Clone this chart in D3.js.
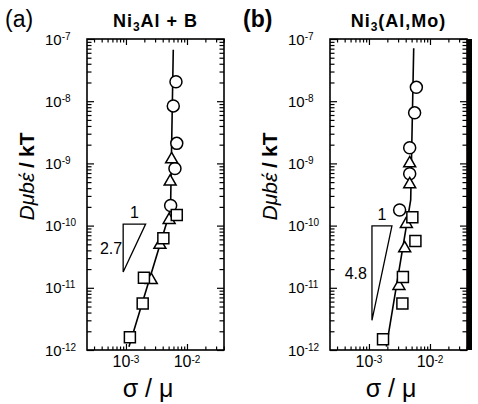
<!DOCTYPE html>
<html>
<head>
<meta charset="utf-8">
<script src="https://cdn.jsdelivr.net/npm/d3@7"></script>
<style>
body { margin: 0; background: #fff; }
svg { display: block; font-family: Arial, "Liberation Sans", sans-serif; }
</style>
</head>
<body>
<svg id="chart" width="478" height="404"></svg>
<script>
// axis ranges and tick labels
var xDomain = [2.3e-4, 4.04e-2];
var yDomain = [1e-12, 1e-7];
var xMajor = [1e-3, 1e-2];
var xMajorExp = ["-3", "-2"];
var yMajor = [1e-12, 1e-11, 1e-10, 1e-9, 1e-8, 1e-7];
var yMajorExp = ["-12", "-11", "-10", "-9", "-8", "-7"];

// (a) Ni3Al + B : [sigma/mu, D mu b eps / kT]
var circlesA = [[6.6e-3, 2.06e-8], [5.96e-3, 8.4e-9], [6.8e-3, 2.1e-9], [6.35e-3, 8.3e-10], [5.4e-3, 2.1e-10]];
var trianglesA = [[5.6e-3, 1.16e-9], [5.3e-3, 5.1e-10], [5.1e-3, 1.23e-10], [3.6e-3, 4.9e-11], [2.6e-3, 1.33e-11]];
var squaresA = [[6.8e-3, 1.48e-10], [4.1e-3, 6.25e-11], [1.97e-3, 1.45e-11], [1.88e-3, 5.6e-12], [1.16e-3, 1.6e-12]];
var fitA = [[1.12e-3, 1.13e-12], [5.37e-3, 1.78e-10], [5.96e-3, 6.7e-8]];
var slopeA = [[9.0e-4, 1.06e-10], [2.1e-3, 1.06e-10], [9.0e-4, 1.8e-11]];

// (b) Ni3(Al,Mo)
var circlesB = [[5.98e-3, 1.67e-8], [5.6e-3, 6.5e-9], [4.65e-3, 1.79e-9], [4.65e-3, 6.8e-10], [3.18e-3, 1.78e-10]];
var trianglesB = [[4.65e-3, 1.0e-9], [4.65e-3, 4.6e-10], [4.1e-3, 1.06e-10], [3.85e-3, 4.3e-11], [3.1e-3, 1.07e-11]];
var squaresB = [[5.14e-3, 1.36e-10], [5.77e-3, 5.65e-11], [3.6e-3, 1.49e-11], [3.53e-3, 5.6e-12], [1.70e-3, 1.49e-12]];
var fitB = [[1.93e-3, 1.13e-12], [4.83e-3, 2.58e-10], [5.41e-3, 7.1e-8]];
var slopeB = [[1.12e-3, 9.9e-11], [2.38e-3, 9.9e-11], [1.12e-3, 3.0e-12]];

var panels = [
	{tag: "(a)", tagBold: false, tagX: -82, name: "Ni", sub: "3", rest: "Al + B", left: 87,
	 circles: circlesA, triangles: trianglesA, squares: squaresA, fit: fitA, slope: slopeA, slopeText: "2.7", textGap: 1},
	{tag: "(b)", tagBold: true, tagX: -87, name: "Ni", sub: "3", rest: "(Al,Mo)", left: 330,
	 circles: circlesB, triangles: trianglesB, squares: squaresB, fit: fitB, slope: slopeB, slopeText: "4.8", textGap: 5}
];

var marginTop = 39, width = 137, height = 311;

// minor ticks 2..9 in each decade
function minors(dom) {
	var out = [];
	for (var e = -13; e <= -1; e++) {
		for (var m = 2; m <= 9; m++) {
			var v = m * Math.pow(10, e);
			if (v > dom[0] && v < dom[1]) out.push(v);
		}
	}
	return out;
}

var svg = d3.select("#chart");

panels.forEach(function(p) {
	var x = d3.scaleLog().domain(xDomain).range([0, width]);
	var y = d3.scaleLog().domain(yDomain).range([height, 0]);

	var g = svg.append("g").attr("transform", "translate(" + p.left + "," + marginTop + ")");

	function ticks(axis, tr, vals, size) {
		g.append("g")
			.attr("transform", tr)
			.call(axis.tickValues(vals).tickSizeInner(size).tickSizeOuter(0).tickFormat(""))
			.call(function(s) { s.select(".domain").remove(); s.selectAll("line").attr("stroke-width", 1.2); });
	}
	var xm = minors(xDomain), ym = minors(yDomain);
	ticks(d3.axisBottom(x), "translate(0," + height + ")", xMajor, -6);
	ticks(d3.axisBottom(x), "translate(0," + height + ")", xm, -3.5);
	ticks(d3.axisTop(x), "translate(0,0)", xMajor, -6);
	ticks(d3.axisTop(x), "translate(0,0)", xm, -3.5);
	ticks(d3.axisLeft(y), "translate(0,0)", yMajor, -7);
	ticks(d3.axisLeft(y), "translate(0,0)", ym, -4.5);
	ticks(d3.axisRight(y), "translate(" + width + ",0)", yMajor, -7);
	ticks(d3.axisRight(y), "translate(" + width + ",0)", ym, -4.5);

	g.append("rect")
		.attr("width", width).attr("height", height)
		.attr("fill", "none").attr("stroke", "#000").attr("stroke-width", 1.6);

	// y tick labels
	var yl = g.selectAll(".ylab").data(yMajor).enter().append("text")
		.attr("class", "ylab")
		.attr("x", -42)
		.attr("y", function(d) { return y(d) + 5.5; })
		.attr("font-size", 15);
	yl.append("tspan").text("10");
	yl.append("tspan").attr("dy", -5).attr("font-size", 10).text(function(d, i) { return yMajorExp[i]; });

	// x tick labels
	var xl = g.selectAll(".xlab").data(xMajor).enter().append("text")
		.attr("class", "xlab")
		.attr("x", function(d) { return x(d); })
		.attr("y", height + 17)
		.attr("text-anchor", "middle")
		.attr("font-size", 16);
	xl.append("tspan").text("10");
	xl.append("tspan").attr("dy", -4).attr("font-size", 10).text(function(d, i) { return xMajorExp[i]; });

	// axis titles
	g.append("text")
		.attr("x", width / 2 - 7.5)
		.attr("y", height + 47)
		.attr("text-anchor", "middle")
		.attr("font-size", 25)
		.text("σ / μ");

	var yt = g.append("text")
		.attr("transform", "translate(-53.5," + (height / 2 - 18) + ") rotate(-90)")
		.attr("text-anchor", "middle")
		.attr("font-size", 21)
		.attr("font-weight", "bold");
	yt.append("tspan").attr("font-style", "italic").attr("font-weight", "normal").text("Dμbέ");
	yt.append("tspan").attr("dx", 5).text("/");
	yt.append("tspan").attr("dx", 5).text("kT");

	// panel tag and title
	g.append("text")
		.attr("x", p.tagX)
		.attr("y", -12)
		.attr("font-size", 23)
		.attr("font-weight", p.tagBold ? "bold" : "normal")
		.text(p.tag);

	var tt = g.append("text")
		.attr("x", width / 2)
		.attr("y", -12)
		.attr("text-anchor", "middle")
		.attr("font-size", 18)
		.attr("font-weight", "bold")
		.attr("letter-spacing", 1);
	tt.append("tspan").text(p.name);
	tt.append("tspan").attr("dy", 4).attr("font-size", 12).text(p.sub);
	tt.append("tspan").attr("dy", -4).text(p.rest);

	// fit line
	var line = d3.line()
		.x(function(d) { return x(d[0]); })
		.y(function(d) { return y(d[1]); });
	g.append("path")
		.attr("d", line(p.fit))
		.attr("fill", "none").attr("stroke", "#000").attr("stroke-width", 1.6);

	// slope triangle
	g.append("path")
		.attr("d", line(p.slope) + "Z")
		.attr("fill", "none").attr("stroke", "#000").attr("stroke-width", 1.3);
	g.append("text")
		.attr("x", (x(p.slope[0][0]) + x(p.slope[1][0])) / 2)
		.attr("y", y(p.slope[0][1]) - 6)
		.attr("text-anchor", "middle")
		.attr("font-size", 16)
		.text("1");
	g.append("text")
		.attr("x", x(p.slope[0][0]) - p.textGap)
		.attr("y", (y(p.slope[0][1]) + y(p.slope[2][1])) / 2 + 6)
		.attr("text-anchor", "end")
		.attr("font-size", 16)
		.text(p.slopeText);

	// markers
	function markers(data, type, size) {
		g.selectAll(null).data(data).enter().append("path")
			.attr("d", d3.symbol().type(type).size(size))
			.attr("transform", function(d) { return "translate(" + x(d[0]) + "," + y(d[1]) + ")"; })
			.attr("fill", "#fff").attr("stroke", "#000").attr("stroke-width", 1.5);
	}
	markers(p.circles, d3.symbolCircle, 113);
	markers(p.triangles, d3.symbolTriangle, 62);
	markers(p.squares, d3.symbolSquare, 121);
});

// thick right edge seen in the reference
svg.append("line")
	.attr("x1", 469.5).attr("x2", 469.5).attr("y1", marginTop).attr("y2", marginTop + height)
	.attr("stroke", "#000").attr("stroke-width", 5);
</script>
</body>
</html>
